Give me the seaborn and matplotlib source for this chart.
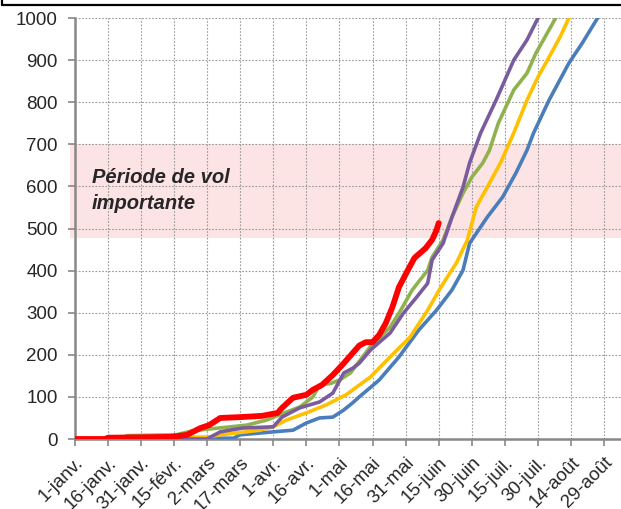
import matplotlib
matplotlib.use("Agg")
import matplotlib.pyplot as plt
from matplotlib.lines import Line2D
import seaborn as sns
import pandas as pd

# ---- data (day of year from 1 Jan, cumulative count) ----
tick_days = [0, 15, 30, 45, 60, 75, 90, 105, 120, 135, 150, 165, 180, 195, 210, 225, 240]
tick_labels = ["1-janv.", "16-janv.", "31-janv.", "15-févr.", "2-mars", "17-mars", "1-avr.",
               "16-avr.", "1-mai", "16-mai", "31-mai", "15-juin", "30-juin", "15-juil.",
               "30-juil.", "14-août", "29-août"]

red_days = [0, 14, 15, 44, 51, 57, 61, 66, 75, 85, 92, 94, 99, 105, 108, 112, 117, 122, 126,
            129, 132, 135, 138, 141, 144, 147, 151, 154, 159, 162, 164, 165]
red_vals = [0, 0, 3, 5, 10, 26, 33, 50, 52, 55, 62, 74, 98, 105, 117, 128, 152, 180, 204,
            222, 230, 230, 247, 275, 313, 361, 401, 430, 453, 473, 496, 513]

green_days = [0, 20, 24, 46, 54, 69, 78, 87, 96, 102, 108, 111, 116, 120, 125, 134, 143, 147,
              153, 160, 162, 167, 171, 176, 180, 185, 188, 192, 199, 205, 209, 218, 222]
green_vals = [0, 0, 8, 10, 20, 28, 33, 45, 64, 76, 100, 128, 132, 140, 157, 219, 266, 299,
              354, 401, 432, 473, 527, 584, 622, 656, 686, 750, 829, 869, 916, 1000, 1040]

purple_days = [0, 60, 66, 76, 90, 94, 102, 111, 117, 122, 126, 129, 134, 143, 149, 155, 160,
               162, 167, 171, 176, 179, 184, 191, 199, 205, 210, 214]
purple_vals = [0, 0, 17, 26, 29, 52, 74, 88, 109, 157, 168, 180, 211, 252, 299, 337, 370,
               425, 465, 527, 598, 656, 727, 805, 900, 948, 1000, 1040]

yellow_days = [0, 61, 66, 84, 90, 96, 105, 114, 123, 129, 134, 143, 152, 160, 166, 173, 178,
               182, 188, 193, 199, 205, 210, 215, 220, 224, 228]
yellow_vals = [0, 5, 10, 21, 29, 45, 62, 81, 105, 128, 147, 195, 242, 306, 361, 418, 473,
               551, 608, 656, 727, 805, 860, 907, 955, 1000, 1040]

blue_days = [0, 72, 75, 90, 99, 105, 111, 117, 122, 126, 129, 138, 147, 156, 164, 171, 176,
             179, 187, 194, 200, 205, 208, 215, 224, 230, 237, 241]
blue_vals = [0, 2, 10, 17, 21, 38, 50, 52, 69, 86, 100, 140, 195, 259, 306, 354, 401, 465,
             527, 575, 632, 686, 727, 805, 893, 940, 1000, 1040]

band_low, band_high = 478, 700
band_text = "Période de vol\nimportante"

series = [("Série bleue", blue_days, blue_vals, "#4A7EBB", 2.6),
          ("Série jaune", yellow_days, yellow_vals, "#FFC000", 2.6),
          ("Série verte", green_days, green_vals, "#8FB24F", 2.6),
          ("Série violette", purple_days, purple_vals, "#7A5C9E", 2.6),
          ("Année en cours", red_days, red_vals, "#FF0000", 4.2)]

frames = []
for name, d, v, _, _ in series:
    frames.append(pd.DataFrame({"jour": d, "valeur": v, "serie": name}))
df = pd.concat(frames, ignore_index=True)

sns.set_style("white")
plt.rcParams["font.family"] = ["Liberation Sans", "DejaVu Sans"]

fig = plt.figure(figsize=(6.21, 5.09), dpi=100)
ax = fig.add_axes([0.1201, 0.1375, 0.8799, 0.8271])

ax.axhspan(band_low, band_high, xmin=-0.008, xmax=1, color="#FDE4E4", zorder=0, lw=0, clip_on=False)

for name, d, v, col, lw in series:
    sns.lineplot(data=df[df["serie"] == name], x="jour", y="valeur", ax=ax, color=col,
                 linewidth=lw, legend=False, solid_capstyle="round", solid_joinstyle="round",
                 zorder=3, estimator=None, sort=False)

ax.set_xlim(0, 247.6)
ax.set_ylim(0, 1000)
ax.set_xticks(tick_days)
ax.set_xticklabels(tick_labels, rotation=45, ha="right", rotation_mode="anchor", fontsize=13.5)
ax.set_yticks(range(0, 1001, 100))
ax.tick_params(axis="y", labelsize=13.5, length=5, width=1.2, color="#888888", pad=7, left=True)
ax.tick_params(axis="x", length=5, width=1.2, color="#888888", pad=6, bottom=True)
ax.set_xlabel("")
ax.set_ylabel("")
ax.grid(True, color="#999999", linestyle=(0, (1.5, 1.5)), linewidth=0.8, zorder=1)
ax.set_axisbelow(True)
for s in ["top", "right"]:
    ax.spines[s].set_visible(False)
for s in ["left", "bottom"]:
    ax.spines[s].set_color("#888888")
    ax.spines[s].set_linewidth(1.8)

ax.text(7.9, 590, band_text, fontsize=14.5, fontweight="bold", fontstyle="italic",
        va="center", ha="left", linespacing=1.5, zorder=4)

# outer frame edge visible at top of image
fig.add_artist(Line2D([0.003, 1.0], [0.990, 0.990], transform=fig.transFigure, color="black", lw=1.6))
fig.add_artist(Line2D([0.003, 0.003], [0.990, 1.0], transform=fig.transFigure, color="black", lw=1.6))

fig.savefig("out.png", dpi=100)
